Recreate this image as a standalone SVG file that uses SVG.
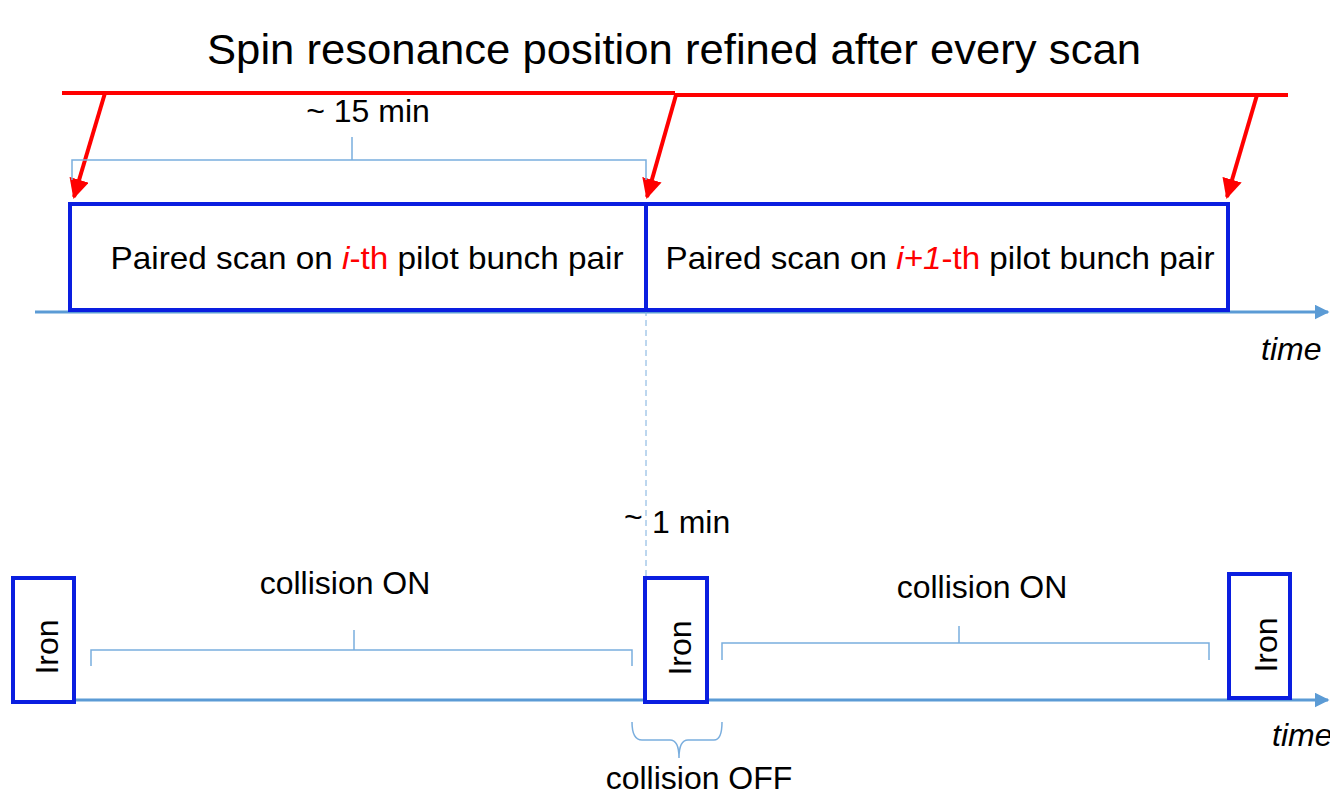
<svg xmlns="http://www.w3.org/2000/svg" width="1330" height="794" viewBox="0 0 1330 794">
<style>
text{font-family:"Liberation Sans",Arial,sans-serif;fill:#000}
.box{fill:#fff;stroke:#0a1ee0;stroke-width:4}
.ax{stroke:#5b9bd5;stroke-width:3;fill:none}
.br{stroke:#7aaede;stroke-width:1.5;fill:none}
.red{stroke:#ff0000;stroke-width:4;fill:none}
.r{fill:#ff0000}
.t{font-size:32px}
</style>
<defs>
<marker id="ra" viewBox="0 0 10 10" refX="9" refY="5" markerWidth="5" markerHeight="5" orient="auto" markerUnits="strokeWidth"><path d="M0,0 L10,5 L0,10 z" fill="#ff0000"/></marker>
<marker id="ba" viewBox="0 0 10 10" refX="9" refY="5" markerWidth="5" markerHeight="5" orient="auto" markerUnits="strokeWidth"><path d="M0,0 L10,5 L0,10 z" fill="#5b9bd5"/></marker>
</defs>
<text x="674" y="64" font-size="43" text-anchor="middle" textLength="934" lengthAdjust="spacingAndGlyphs">Spin resonance position refined after every scan</text>
<g id="connectors">
<line class="ax" x1="35" y1="312" x2="1328" y2="312" marker-end="url(#ba)"/>
<line class="ax" x1="74" y1="700" x2="1328" y2="700" marker-end="url(#ba)"/>
<path class="red" d="M62,93 H675 M675,95 H1288"/>
<line class="red" x1="105" y1="93" x2="74" y2="197" marker-end="url(#ra)"/>
<line class="red" x1="676" y1="95" x2="647" y2="197" marker-end="url(#ra)"/>
<line class="red" x1="1257" y1="95" x2="1227" y2="197" marker-end="url(#ra)"/>
<line x1="646" y1="310" x2="646" y2="578" stroke="#7aaede" stroke-width="1" stroke-dasharray="6,4"/>
<path class="br" d="M352,137 V160 M72,180 V160 H646 V180"/>
<path class="br" d="M354,630 V650 M91,666 V650 H632 V666"/>
<path class="br" d="M959,626 V643 M722,660 V643 H1209 V660"/>
<path class="br" d="M632,722 Q632,740 642,740 H670 Q679,740 679,758 Q679,740 688,740 H714 Q722,740 722,722"/>
</g>
<text class="t" x="368" y="122" text-anchor="middle">~ 15 min</text>
<g id="scan1">
<rect class="box" x="70" y="204" width="576" height="106"/>
<text class="t" x="367" y="269" text-anchor="middle" textLength="513" lengthAdjust="spacingAndGlyphs">Paired scan on <tspan class="r" font-style="italic">i</tspan><tspan class="r">-th</tspan> pilot bunch pair</text>
</g>
<g id="scan2">
<rect class="box" x="646" y="204" width="582" height="106"/>
<text class="t" x="940" y="269" text-anchor="middle" textLength="549" lengthAdjust="spacingAndGlyphs">Paired scan on <tspan class="r" font-style="italic">i+1</tspan><tspan class="r">-th</tspan> pilot bunch pair</text>
</g>
<text class="t" x="1261" y="360" font-style="italic">time</text>
<text class="t" x="1272" y="746" font-style="italic">time</text>
<text class="t" x="624" y="528">~</text>
<text class="t" x="652" y="533">1 min</text>
<g id="iron1">
<rect class="box" x="13" y="578" width="61" height="124"/>
<text class="t" transform="translate(58,647) rotate(-90)" text-anchor="middle">Iron</text>
</g>
<g id="iron2">
<rect class="box" x="645" y="578" width="62" height="124"/>
<text class="t" transform="translate(691,648) rotate(-90)" text-anchor="middle">Iron</text>
</g>
<text class="t" x="345" y="594" text-anchor="middle">collision ON</text>
<g id="iron3">
<rect class="box" x="1229" y="574" width="61" height="124"/>
<text class="t" transform="translate(1277,645) rotate(-90)" text-anchor="middle">Iron</text>
</g>
<text class="t" x="982" y="598" text-anchor="middle">collision ON</text>
<text class="t" x="699" y="789" text-anchor="middle">collision OFF</text>
</svg>
